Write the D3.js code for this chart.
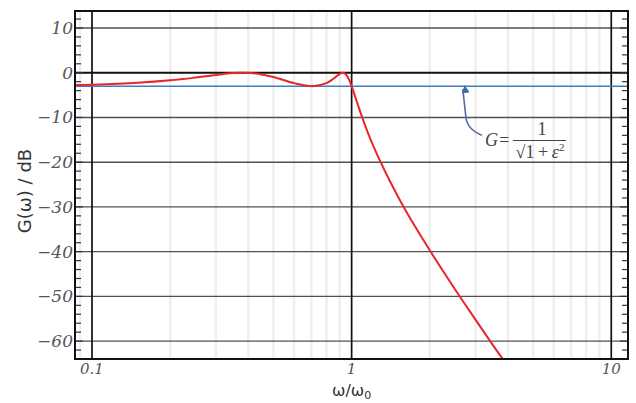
<!DOCTYPE html>
<html>
<head>
<meta charset="utf-8">
<script src="https://cdn.jsdelivr.net/npm/d3@7"></script>
<style>
  html, body { margin: 0; padding: 0; background: #fff; }
  svg { display: block; }
</style>
</head>
<body>
<svg id="chart" width="636" height="403"></svg>
<script>
// Normalised frequency ω/ω0 and the filter gain in dB
const omega = [0.086, 0.1, 0.15, 0.2, 0.25, 0.3, 0.35, 0.383, 0.42, 0.5, 0.6, 0.707,
               0.8, 0.85, 0.9, 0.924, 0.94, 0.96, 0.98, 1.0, 1.05, 1.1, 1.2, 1.4, 1.6,
               2.0, 2.5, 3.0, 3.5, 3.83];
const gainDb = [-2.76, -2.67, -2.25, -1.70, -1.08, -0.49, -0.08, 0.0, -0.11, -0.97, -2.33, -3.01,
                -2.33, -1.35, -0.23, 0.0, -0.13, -0.71, -1.71, -3.01, -6.65, -10.1, -15.8, -24.1, -30.4,
                -39.7, -48.4, -55.2, -60.9, -64.1];
// Half-power level 1/√(1+ε²) with ε = 1
const halfPowerDb = -3.01;

const yTicks = [10, 0, -10, -20, -30, -40, -50, -60];
const yTickLabels = ["10", "0", "\u221210", "\u221220", "\u221230", "\u221240", "\u221250", "\u221260"];
const xTicks = [0.1, 1, 10];
const xTickLabels = ["0.1", "1", "10"];

const svg = d3.select("#chart");
const pL = 75, pR = 628, pT = 11, pB = 359;

const x = d3.scaleLog().domain([0.086, 11.6]).range([pL, pR]);
const y = d3.scaleLinear().domain([-64, 13.8]).range([pB, pT]);

const defs = svg.append("defs");
defs.append("clipPath").attr("id", "plotClip")
  .append("rect").attr("x", pL).attr("y", pT)
  .attr("width", pR - pL).attr("height", pB - pT);
defs.append("marker").attr("id", "arrowHead")
  .attr("viewBox", "0 0 10 10").attr("refX", 5).attr("refY", 2)
  .attr("markerWidth", 5).attr("markerHeight", 6).attr("orient", "auto")
  .append("path").attr("d", "M0,10 L5,0 L10,10 Z").attr("fill", "#3f6aa5")
  .attr("transform", "rotate(90 5 5)");

// Minor vertical grid (2..9 per decade)
const minorX = [];
for (const dec of [0.01, 0.1, 1]) for (let k = 2; k <= 9; k++) {
  const v = dec * k;
  if (v > x.domain()[0] && v < x.domain()[1]) minorX.push(v);
}
svg.append("g").selectAll("line").data(minorX).join("line")
  .attr("x1", d => x(d)).attr("x2", d => x(d))
  .attr("y1", pT).attr("y2", pB)
  .attr("stroke", "#efefef").attr("stroke-width", 2.5);

// Horizontal grid every 10 dB
svg.append("g").selectAll("line").data(yTicks.filter(d => d !== 0)).join("line")
  .attr("x1", pL).attr("x2", pR)
  .attr("y1", d => y(d)).attr("y2", d => y(d))
  .attr("stroke", "#505050").attr("stroke-width", 1.4);

// Decade lines
svg.append("g").selectAll("line").data(xTicks).join("line")
  .attr("x1", d => x(d)).attr("x2", d => x(d))
  .attr("y1", pT).attr("y2", pB)
  .attr("stroke", "#111").attr("stroke-width", 1.7);

// 0 dB line
svg.append("line")
  .attr("x1", pL).attr("x2", pR).attr("y1", y(0)).attr("y2", y(0))
  .attr("stroke", "#111").attr("stroke-width", 2);

// Minor y ticks on both sides, every 2 dB
const yMinor = d3.range(-64, 14, 2);
const tickG = svg.append("g").attr("stroke", "#333").attr("stroke-width", 1.2);
tickG.selectAll(".tl").data(yMinor).join("line").attr("class", "tl")
  .attr("x1", pL).attr("x2", d => pL + (d % 10 === 0 ? 8 : 6))
  .attr("y1", d => y(d)).attr("y2", d => y(d));
tickG.selectAll(".tr").data(yMinor).join("line").attr("class", "tr")
  .attr("x1", pR).attr("x2", d => pR - (d % 10 === 0 ? 8 : 6))
  .attr("y1", d => y(d)).attr("y2", d => y(d));

// Half-power reference
svg.append("line")
  .attr("x1", pL).attr("x2", pR)
  .attr("y1", y(halfPowerDb)).attr("y2", y(halfPowerDb))
  .attr("stroke", "#3f7fc0").attr("stroke-width", 1.6);

// Gain curve
const line = d3.line().x((d, i) => x(omega[i])).y(d => y(d)).curve(d3.curveCatmullRom.alpha(0.5));
svg.append("path").datum(gainDb)
  .attr("clip-path", "url(#plotClip)")
  .attr("d", line)
  .attr("fill", "none").attr("stroke", "#e8262c").attr("stroke-width", 2);

// Frame
svg.append("rect").attr("x", pL).attr("y", pT)
  .attr("width", pR - pL).attr("height", pB - pT)
  .attr("fill", "none").attr("stroke", "#111").attr("stroke-width", 2);

// Tick labels
const tickFont = "'DejaVu Serif', 'Liberation Serif', serif";
svg.append("g").selectAll("text").data(yTicks).join("text")
  .attr("x", pL - 2).attr("y", d => y(d) + 6)
  .attr("text-anchor", "end")
  .attr("font-family", tickFont).attr("font-style", "italic").attr("font-size", 17)
  .attr("fill", "#555")
  .text((d, i) => yTickLabels[i]);
svg.append("g").selectAll("text").data(xTicks).join("text")
  .attr("x", d => x(d)).attr("y", 374)
  .attr("text-anchor", "middle")
  .attr("font-family", tickFont).attr("font-style", "italic").attr("font-size", 15)
  .attr("fill", "#555")
  .text((d, i) => xTickLabels[i]);

// Axis titles
const xt = svg.append("text").attr("x", x(1)).attr("y", 396)
  .attr("text-anchor", "middle")
  .attr("font-family", "'DejaVu Sans', sans-serif").attr("font-size", 16).attr("fill", "#333");
xt.append("tspan").text("\u03c9/\u03c9");
xt.append("tspan").attr("font-size", 11).attr("dy", 3).text("0");

svg.append("text")
  .attr("transform", `translate(31,${(pT + pB) / 2 + 6}) rotate(-90)`)
  .attr("text-anchor", "middle")
  .attr("font-family", "'DejaVu Sans', sans-serif").attr("font-size", 18).attr("fill", "#333")
  .text("G(\u03c9) / dB");

// Pointer from the formula up to the half-power line
const ax = x(2.68), ay = y(halfPowerDb);
svg.append("path")
  .attr("d", `M${ax + 19},${ay + 49} Q${ax + 4},${ay + 43} ${ax + 3},${ay + 30} L${ax},${ay + 3}`)
  .attr("fill", "none").attr("stroke", "#5b68a8").attr("stroke-width", 1.6)
  .attr("marker-end", "url(#arrowHead)");

const ann = svg.append("g").attr("font-family", "'Liberation Serif', 'DejaVu Serif', serif")
  .attr("fill", "#444");
ann.append("text").attr("x", 485).attr("y", 146)
  .attr("font-style", "italic").attr("font-size", 18).text("G=");
ann.append("text").attr("x", 542).attr("y", 135)
  .attr("text-anchor", "middle").attr("font-size", 18).text("1");
ann.append("line").attr("x1", 513).attr("x2", 566).attr("y1", 140.5).attr("y2", 140.5)
  .attr("stroke", "#444").attr("stroke-width", 1.2);
const den = ann.append("text").attr("x", 540).attr("y", 158)
  .attr("text-anchor", "middle").attr("font-size", 18);
den.append("tspan").text("\u221a1\u2009+\u2009");
den.append("tspan").attr("font-style", "italic").text("\u03b5");
den.append("tspan").attr("font-size", 11).attr("dy", -7).text("2");
</script>
</body>
</html>
